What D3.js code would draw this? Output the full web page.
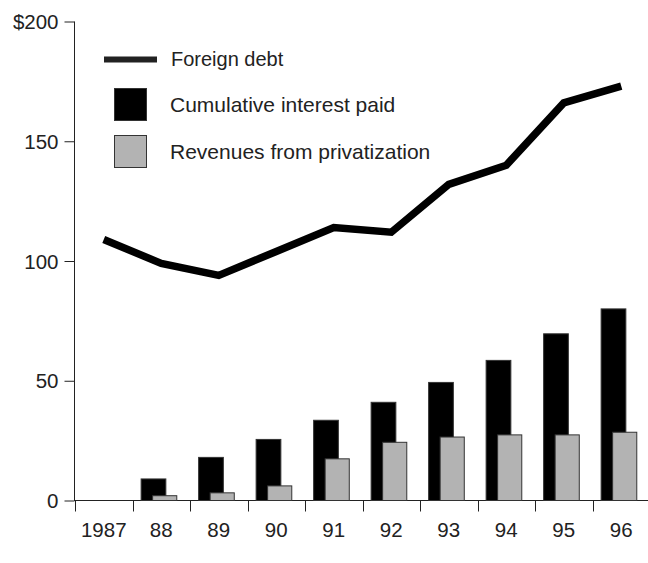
<!DOCTYPE html>
<html>
<head>
<meta charset="utf-8">
<script src="https://cdn.jsdelivr.net/npm/d3@7"></script>
<style>
  body { margin: 0; background: #fff; }
  text { font-family: "Liberation Sans", Arial, sans-serif; fill: #222; }
</style>
</head>
<body>
<div id="chart"></div>
<script>
// data
var years = ["1987", "88", "89", "90", "91", "92", "93", "94", "95", "96"];
var foreignDebt = [109, 99, 94, 104, 114, 112, 132, 140, 166, 173];
var interestPaid = [0, 9, 18, 25.5, 33.5, 41, 49.3, 58.5, 69.6, 80];
var privatization = [0, 2, 3.2, 6.1, 17.4, 24.3, 26.5, 27.4, 27.4, 28.5];
var yTicks = [0, 50, 100, 150, 200];

var width = 648, height = 563;
var margin = { top: 21, right: 0, bottom: 62, left: 75 };

var svg = d3.select("#chart").append("svg")
  .attr("width", width)
  .attr("height", height);

var x = d3.scaleBand()
  .domain(years)
  .range([margin.left, margin.left + 575]);

var y = d3.scaleLinear()
  .domain([0, 200])
  .range([height - margin.bottom - 0.5, margin.top + 0.5]);

// y axis
var yAxis = svg.append("g")
  .attr("transform", "translate(" + (margin.left - 0.5) + ",0)")
  .call(d3.axisLeft(y).tickValues(yTicks).tickSize(10).tickPadding(6)
    .tickFormat(function(d) { return d === 200 ? "$200" : d; }));
yAxis.select(".domain").attr("stroke", "#222").attr("d", "M0," + y(200) + "V" + y(0));
yAxis.selectAll("line").attr("stroke", "#222");
yAxis.selectAll("text").style("font-size", "20.5px").attr("fill", "#222").attr("dy", "0.35em");

// x axis
var xAxis = svg.append("g")
  .attr("transform", "translate(0," + y(0) + ")");
xAxis.append("line")
  .attr("x1", margin.left - 1).attr("x2", width)
  .attr("stroke", "#222");
xAxis.selectAll(".tick")
  .data(years)
  .enter().append("line")
  .attr("x1", function(d) { return Math.round(x(d)) + 0.5; })
  .attr("x2", function(d) { return Math.round(x(d)) + 0.5; })
  .attr("y1", 0).attr("y2", 11)
  .attr("stroke", "#222");
xAxis.selectAll("text")
  .data(years)
  .enter().append("text")
  .attr("x", function(d) { return x(d) + x.bandwidth() / 2; })
  .attr("y", 36)
  .attr("text-anchor", "middle")
  .style("font-size", "20.5px")
  .text(function(d) { return d; });

// bars
var bw = x.bandwidth();
svg.selectAll(".interest")
  .data(years)
  .enter().append("rect")
  .filter(function(d, i) { return interestPaid[i] > 0; })
  .attr("class", "interest")
  .attr("x", function(d) { return x(d) + bw * 0.15; })
  .attr("y", function(d) { return y(interestPaid[years.indexOf(d)]); })
  .attr("width", bw * 0.43)
  .attr("height", function(d) { return y(0) - y(interestPaid[years.indexOf(d)]); })
  .attr("fill", "#000")
  .attr("stroke", "#333")
  .attr("stroke-width", 1);

svg.selectAll(".priv")
  .data(years)
  .enter().append("rect")
  .filter(function(d, i) { return privatization[i] > 0; })
  .attr("class", "priv")
  .attr("x", function(d) { return x(d) + bw * 0.35; })
  .attr("y", function(d) { return y(privatization[years.indexOf(d)]); })
  .attr("width", bw * 0.42)
  .attr("height", function(d) { return y(0) - y(privatization[years.indexOf(d)]); })
  .attr("fill", "#b3b3b3")
  .attr("stroke", "#333")
  .attr("stroke-width", 1);

// foreign debt line
var line = d3.line()
  .x(function(d, i) { return x(years[i]) + bw / 2; })
  .y(function(d) { return y(d); });

svg.append("path")
  .datum(foreignDebt)
  .attr("d", line)
  .attr("fill", "none")
  .attr("stroke", "#000")
  .attr("stroke-width", 7.5)
  .attr("stroke-linejoin", "miter");

// legend
var legend = svg.append("g");
legend.append("line")
  .attr("x1", 104).attr("x2", 157)
  .attr("y1", 59.5).attr("y2", 59.5)
  .attr("stroke", "#222")
  .attr("stroke-width", 6);
legend.append("rect")
  .attr("x", 114.5).attr("y", 88.5)
  .attr("width", 32).attr("height", 32)
  .attr("fill", "#000").attr("stroke", "#333");
legend.append("rect")
  .attr("x", 114.5).attr("y", 135.5)
  .attr("width", 32).attr("height", 32)
  .attr("fill", "#b3b3b3").attr("stroke", "#333");

var legendText = ["Foreign debt", "Cumulative interest paid", "Revenues from privatization"];
var legendY = [65.5, 112, 159];
legend.selectAll("text")
  .data(legendText)
  .enter().append("text")
  .attr("x", function(d, i) { return i === 0 ? 171 : 170; })
  .attr("y", function(d, i) { return legendY[i]; })
  .style("font-size", function(d, i) { return i === 0 ? "20px" : "21px"; })
  .text(function(d) { return d; });
</script>
</body>
</html>
